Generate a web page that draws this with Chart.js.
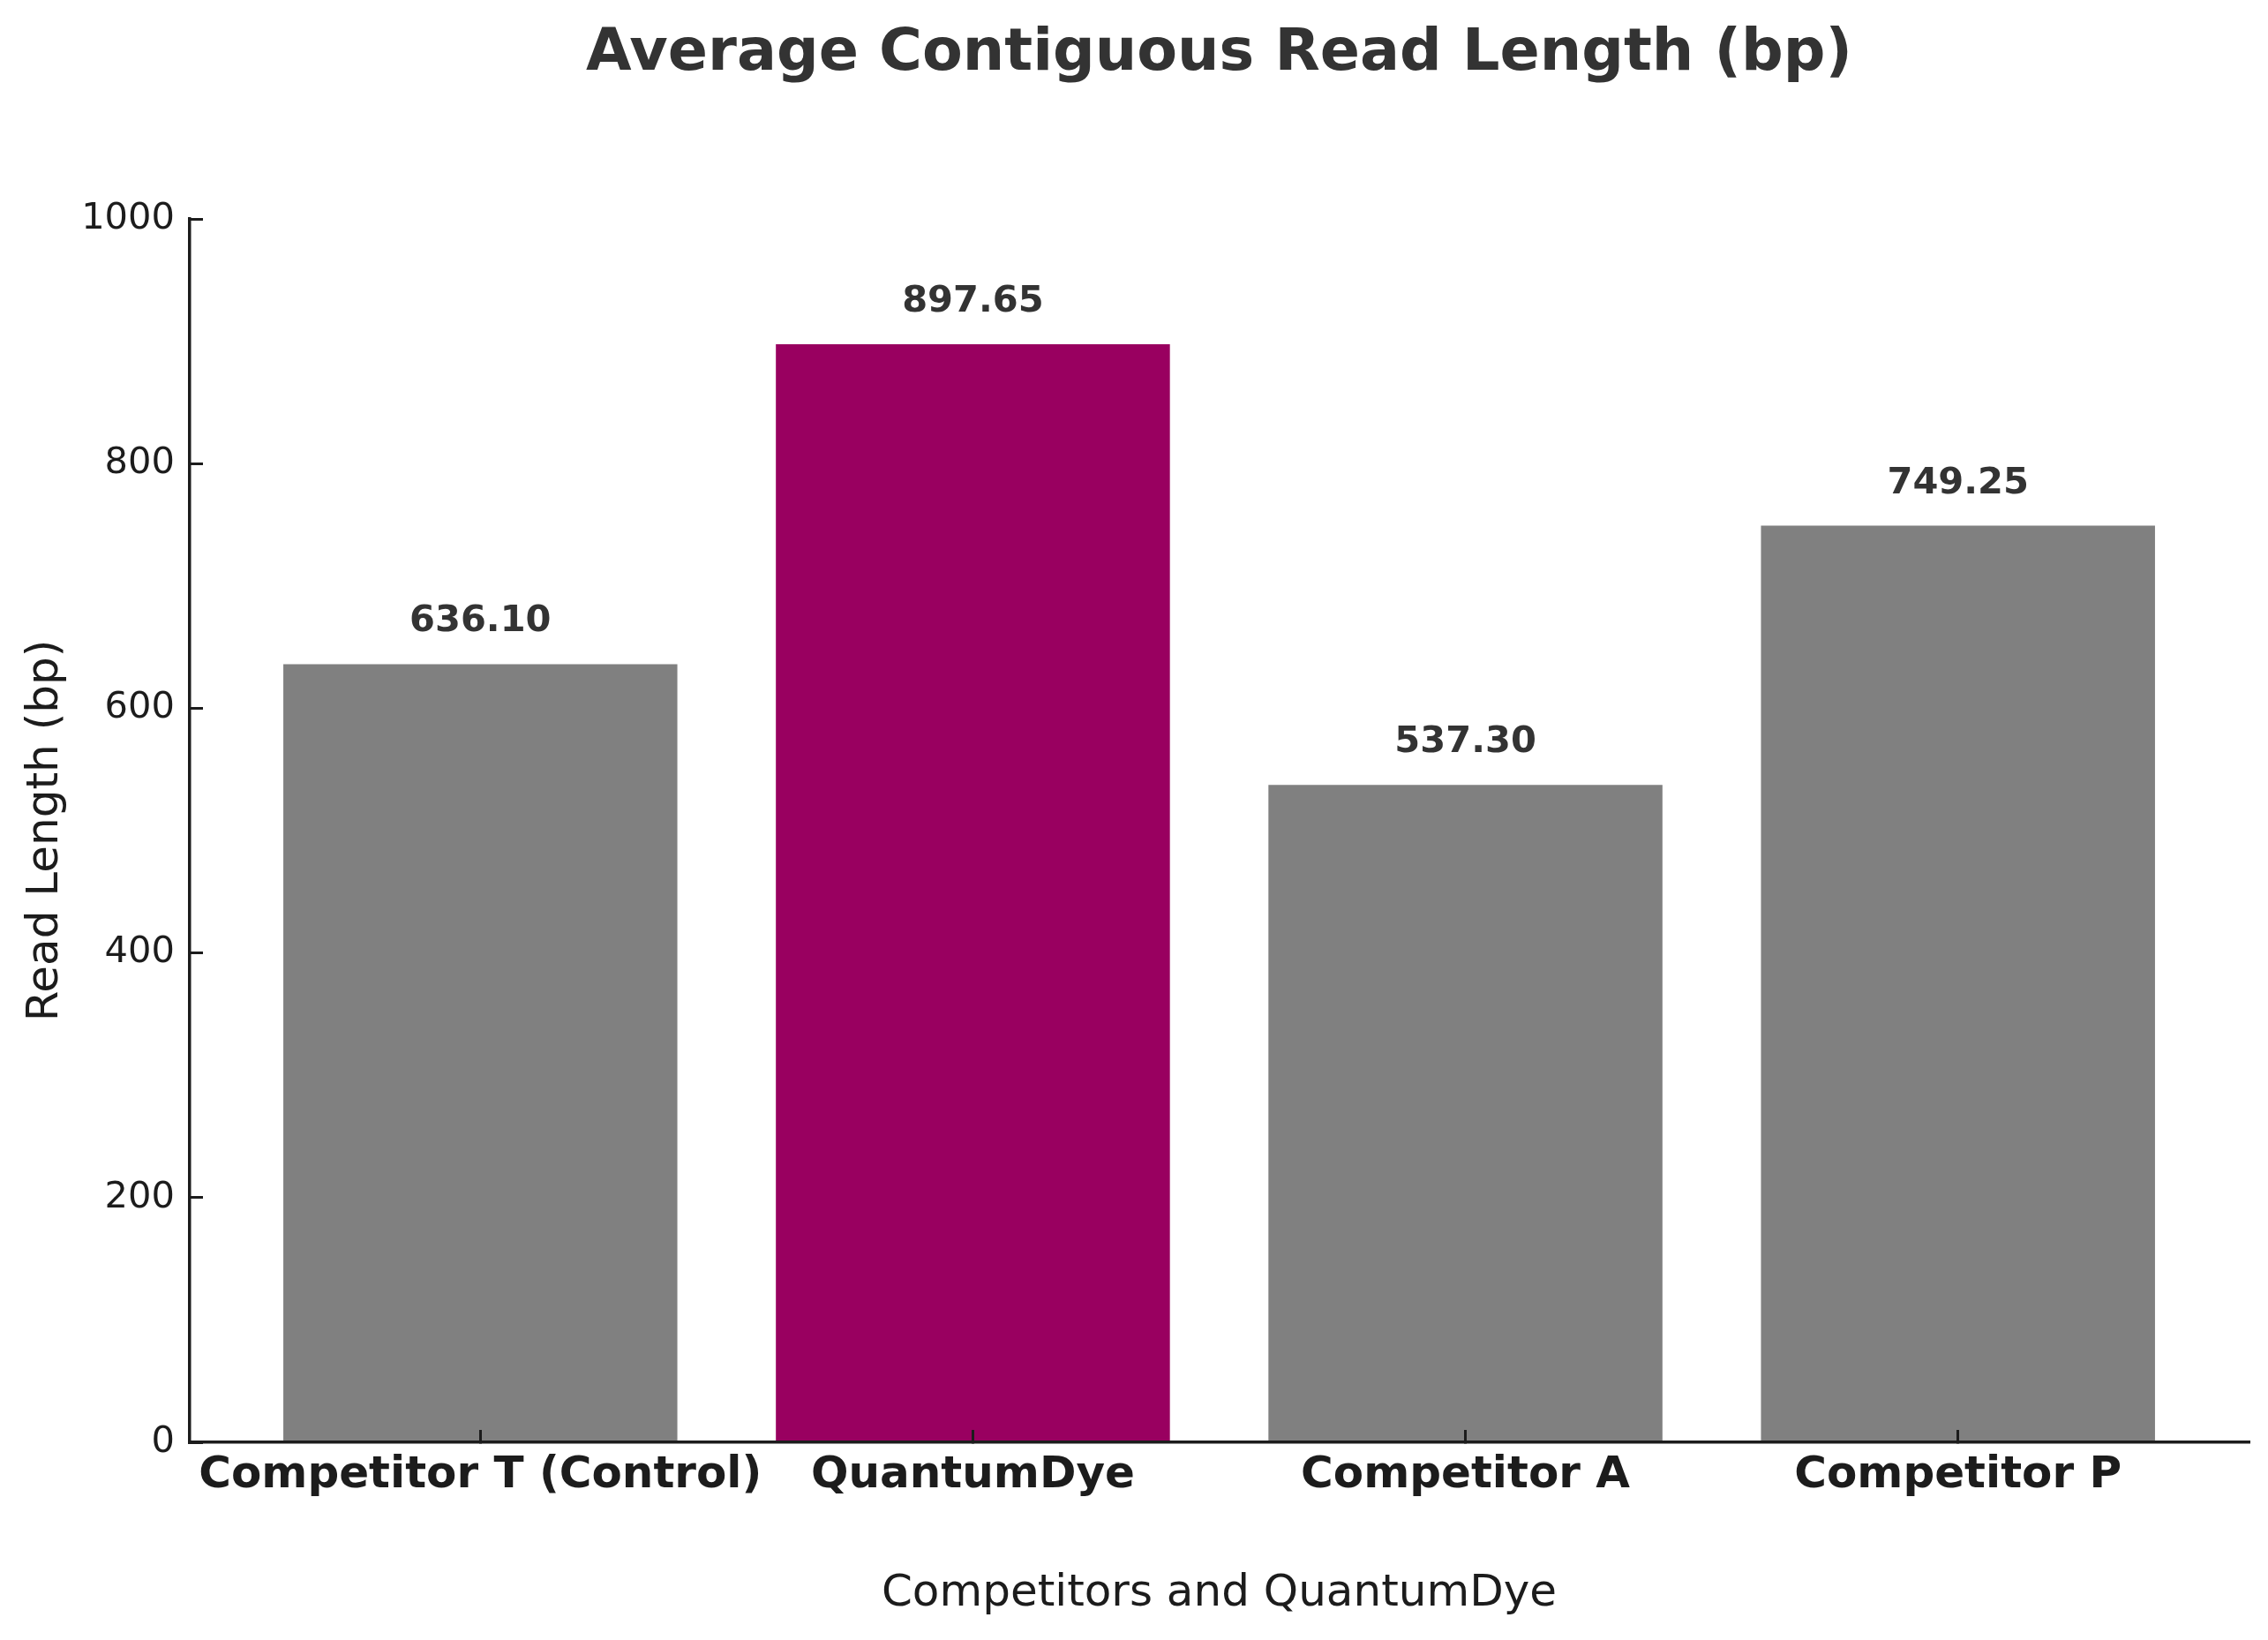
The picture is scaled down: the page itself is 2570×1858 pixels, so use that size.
<!DOCTYPE html>
<html>
<head>
<meta charset="utf-8">
<title>Average Contiguous Read Length (bp)</title>
<script src="https://cdn.jsdelivr.net/npm/chart.js@4.4.1/dist/chart.umd.min.js"></script>
<style>
  html, body { margin: 0; padding: 0; background: #ffffff; }
  #wrap { width: 2570px; height: 1858px; }
</style>
</head>
<body>
<div id="wrap"><canvas id="readChart" width="2570" height="1858"></canvas></div>
<script>
// data
const categories = ['Competitor T (Control)', 'QuantumDye', 'Competitor A', 'Competitor P'];
const readLengths = [636.10, 897.65, 537.30, 749.25];
const barColors = ['#808080', '#990060', '#808080', '#808080'];
const yTicks = [0, 200, 400, 600, 800, 1000];

const FONT = "'DejaVu Sans', 'Liberation Sans', sans-serif";
const INK = '#1c1c1c';

// bars sit at 0..n-1 on a linear axis, with matplotlib-like margins
const points = readLengths.map((v, i) => ({ x: i, y: v }));

// writes the value above each bar, using the bar element positions
const valueLabels = {
  id: 'valueLabels',
  afterDatasetsDraw(chart) {
    const ctx = chart.ctx;
    const meta = chart.getDatasetMeta(0);
    ctx.save();
    ctx.font = 'bold 41.6px ' + FONT;
    ctx.fillStyle = '#333333';
    ctx.textAlign = 'center';
    ctx.textBaseline = 'alphabetic';
    meta.data.forEach((bar, i) => {
      ctx.fillText(readLengths[i].toFixed(2), bar.x, bar.y - 37);
    });
    ctx.restore();
  }
};

const chart = new Chart(document.getElementById('readChart').getContext('2d'), {
  type: 'bar',
  data: {
    datasets: [{
      data: points,
      backgroundColor: barColors,
      borderWidth: 0,
      categoryPercentage: 1.0,
      barPercentage: 0.8
    }]
  },
  options: {
    responsive: false,
    devicePixelRatio: 1,
    animation: false,
    layout: { padding: { left: 0, right: 22, top: 0, bottom: 0 } },
    plugins: {
      legend: { display: false },
      tooltip: { enabled: false },
      title: {
        display: true,
        fullSize: false,
        text: 'Average Contiguous Read Length (bp)',
        color: '#333333',
        font: { family: FONT, size: 66.7, weight: 'bold', lineHeight: 1.2 },
        padding: { top: 22, bottom: 146 }
      }
    },
    scales: {
      x: {
        type: 'linear',
        min: -0.59,
        max: 3.59,
        offset: false,
        afterBuildTicks: scale => {
          scale.ticks = categories.map((c, i) => ({ value: i }));
        },
        afterFit: scale => {
          scale.height = 224;
          scale.paddingLeft = 0;
          scale.paddingRight = 0;
        },
        ticks: {
          autoSkip: false,
          maxRotation: 0,
          padding: 22,
          color: INK,
          font: { family: FONT, size: 50, weight: 'bold', lineHeight: 1.2 },
          callback: value => categories[value]
        },
        // tick marks point inward and sit on top of the bars
        grid: {
          z: 1,
          offset: false,
          drawOnChartArea: false,
          drawTicks: true,
          tickLength: -14,
          lineWidth: 3,
          color: INK
        },
        border: { display: true, color: INK, width: 3.5, z: 1 },
        title: {
          display: true,
          text: 'Competitors and QuantumDye',
          color: INK,
          font: { family: FONT, size: 50, lineHeight: 1.2 },
          padding: { top: 0, bottom: 22 }
        }
      },
      y: {
        min: 0,
        max: 1000,
        afterBuildTicks: scale => {
          scale.ticks = yTicks.map(v => ({ value: v }));
        },
        afterFit: scale => {
          scale.width = 215;
          scale.paddingTop = 0;
          scale.paddingBottom = 0;
        },
        ticks: {
          padding: 32,
          color: INK,
          font: { family: FONT, size: 41.6, lineHeight: 1.2 },
          callback: value => String(value)
        },
        grid: {
          z: 1,
          drawOnChartArea: false,
          drawTicks: true,
          tickLength: -15,
          lineWidth: 3,
          color: INK
        },
        border: { display: true, color: INK, width: 3.5, z: 1 },
        title: {
          display: true,
          text: 'Read Length (bp)',
          color: INK,
          font: { family: FONT, size: 50, lineHeight: 1.2 },
          padding: { top: 22, bottom: 0 }
        }
      }
    }
  },
  plugins: [valueLabels]
});
</script>
</body>
</html>
